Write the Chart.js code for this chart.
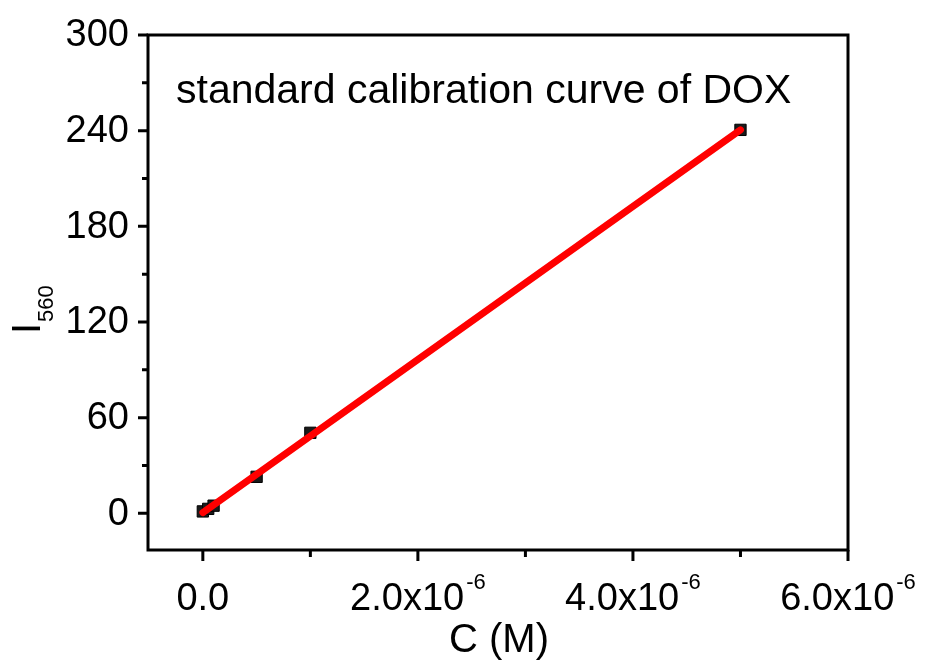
<!DOCTYPE html>
<html>
<head>
<meta charset="utf-8">
<script src="https://cdn.jsdelivr.net/npm/chart.js@4"></script>
<style>html,body{margin:0;padding:0;background:#fff;}canvas{display:block;}</style>
</head>
<body>
<canvas id="c" width="926" height="664"></canvas>
<script>
// ---- data ----
const concX = [0, 5e-8, 1e-7, 5e-7, 1e-6, 5e-6];
const intensityY = [1.2, 2.8, 4.8, 22.9, 50.5, 240.5];
const fitX = [0, 5e-6];
const fitY = [0.5, 240.5];
const yTicks = [0, 60, 120, 180, 240, 300];
const yMinorTicks = [30, 90, 150, 210, 270];
const xTicks = [0, 2e-6, 4e-6, 6e-6];
const xTickLabels = ["0.0", "2.0x10", "4.0x10", "6.0x10"];
const xTickExponents = ["", "-6", "-6", "-6"];
const xMinorTicks = [1e-6, 3e-6, 5e-6];
const chartTitle = "standard calibration curve of DOX";
const xTitle = "C (M)";
const yTitleMain = "I";
const yTitleSub = "560";

const FONT = '"Liberation Sans", Arial, sans-serif';

const framePlugin = {
  id: 'frame',
  afterDatasetsDraw(chart) {
    const ctx = chart.ctx;
    const a = chart.chartArea;
    const xs = chart.scales.x, ys = chart.scales.y;
    ctx.save();
    ctx.strokeStyle = '#000';
    ctx.lineWidth = 3;
    ctx.strokeRect(a.left, a.top, a.right - a.left, a.bottom - a.top);
    // ticks
    ctx.lineWidth = 3;
    ctx.beginPath();
    yTicks.forEach(v => { const p = ys.getPixelForValue(v); ctx.moveTo(a.left, p); ctx.lineTo(a.left - 10, p); });
    yMinorTicks.forEach(v => { const p = ys.getPixelForValue(v); ctx.moveTo(a.left, p); ctx.lineTo(a.left - 6, p); });
    xTicks.forEach(v => { const p = xs.getPixelForValue(v); ctx.moveTo(p, a.bottom); ctx.lineTo(p, a.bottom + 11); });
    xMinorTicks.forEach(v => { const p = xs.getPixelForValue(v); ctx.moveTo(p, a.bottom); ctx.lineTo(p, a.bottom + 7); });
    ctx.stroke();
    ctx.fillStyle = '#000';
    // y tick labels
    ctx.font = '38px ' + FONT;
    ctx.textAlign = 'right';
    ctx.textBaseline = 'middle';
    yTicks.forEach(v => { ctx.fillText(String(v), a.left - 19, ys.getPixelForValue(v) + 1); });
    // x tick labels
    ctx.textBaseline = 'alphabetic';
    xTicks.forEach((v, i) => {
      const p = xs.getPixelForValue(v);
      ctx.font = '38px ' + FONT;
      const w1 = ctx.measureText(xTickLabels[i]).width;
      ctx.font = '22px ' + FONT;
      const gap = 2;
      const w2 = xTickExponents[i] ? ctx.measureText(xTickExponents[i]).width + gap : 0;
      const start = p - (w1 + w2) / 2;
      ctx.textAlign = 'left';
      ctx.font = '38px ' + FONT;
      ctx.fillText(xTickLabels[i], start, 610);
      if (xTickExponents[i]) {
        ctx.font = '22px ' + FONT;
        ctx.fillText(xTickExponents[i], start + w1 + gap, 589);
      }
    });
    // x title
    ctx.font = '40px ' + FONT;
    ctx.textAlign = 'center';
    ctx.fillText(xTitle, (a.left + a.right) / 2 + 1, 652);
    // y title
    ctx.save();
    ctx.translate(40, 334);
    ctx.rotate(-Math.PI / 2);
    ctx.textAlign = 'left';
    ctx.font = '40px ' + FONT;
    ctx.fillText(yTitleMain, 0, 0);
    const wi = ctx.measureText(yTitleMain).width;
    ctx.font = '22px ' + FONT;
    ctx.fillText(yTitleSub, wi + 1, 13);
    ctx.restore();
    // chart title
    ctx.font = '41px ' + FONT;
    ctx.textAlign = 'left';
    ctx.fillText(chartTitle, 176, 103);
    ctx.restore();
  }
};

new Chart(document.getElementById('c'), {
  type: 'scatter',
  data: {
    datasets: [
      {
        label: 'fit',
        data: fitX.map((x, i) => ({ x: x, y: fitY[i] })),
        showLine: true,
        borderColor: '#ff0000',
        borderWidth: 7,
        borderCapStyle: 'round',
        pointRadius: 0,
        fill: false
      },
      {
        label: 'data',
        data: concX.map((x, i) => ({ x: x, y: intensityY[i] })),
        pointStyle: 'rect',
        pointRadius: 8,
        pointBackgroundColor: '#1a1a1a',
        pointBorderColor: '#000',
        pointBorderWidth: 1,
        showLine: false
      }
    ]
  },
  options: {
    responsive: false,
    animation: false,
    devicePixelRatio: 1,
    layout: { padding: { left: 148, right: 78, top: 35, bottom: 114 } },
    plugins: { legend: { display: false }, tooltip: { enabled: false }, title: { display: false } },
    scales: {
      x: { type: 'linear', min: -0.51e-6, max: 6e-6, display: false },
      y: { type: 'linear', min: -23, max: 300, display: false }
    }
  },
  plugins: [framePlugin]
});
</script>
</body>
</html>
